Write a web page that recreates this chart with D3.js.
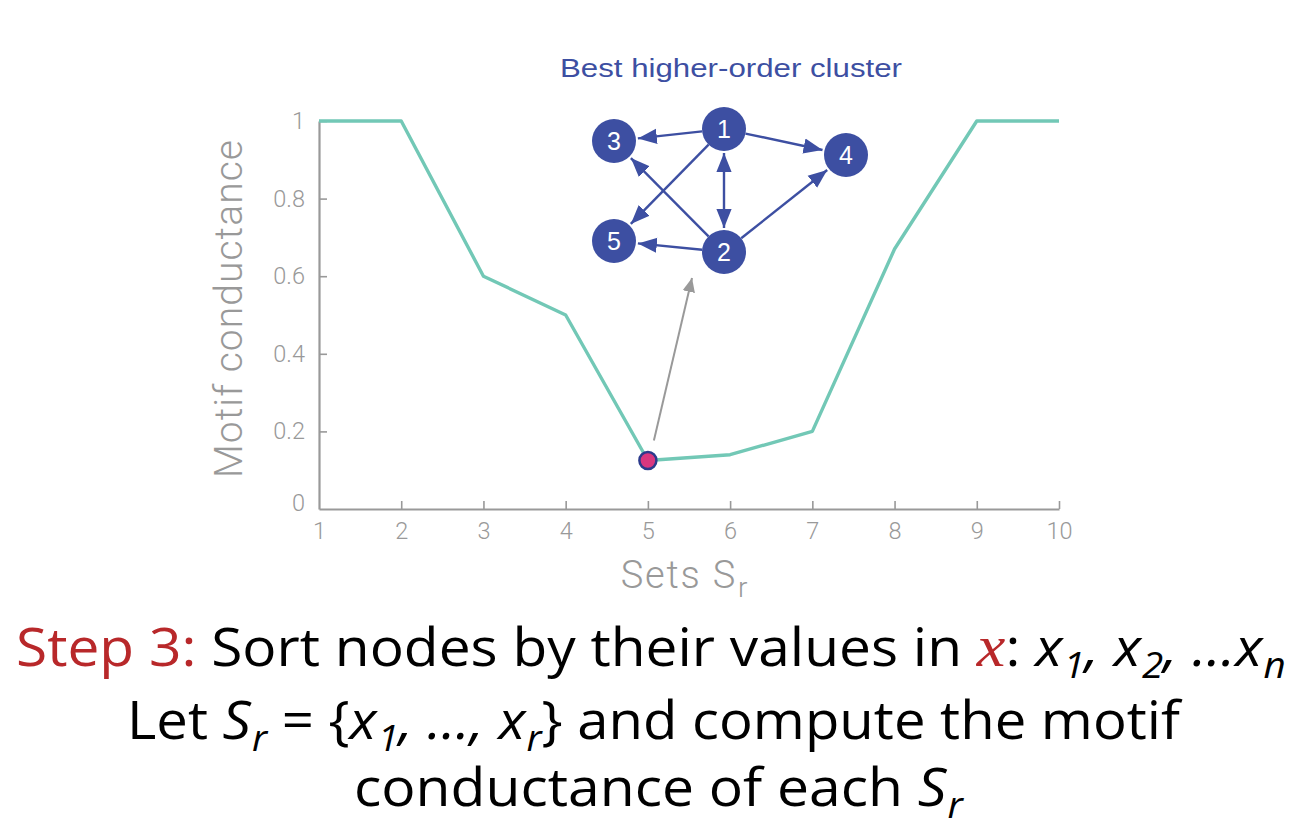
<!DOCTYPE html>
<html><head><meta charset="utf-8">
<script src="https://cdn.jsdelivr.net/npm/d3@7"></script>
<style>
body{margin:0;background:#fff;}
svg{display:block;}
</style></head>
<body>
<svg id="c" width="1316" height="838"></svg>
<script>
// ---- data ----
const sets = [1,2,3,4,5,6,7,8,9,10];
const conductance = [1,1,0.6,0.5,0.125,0.14,0.2,0.67,1,1];
const yTicks = [0,0.2,0.4,0.6,0.8,1];
const yTickLabels = ["0","0.2","0.4","0.6","0.8","1"];
const bestIndex = 4;
const clusterNodes = ["1","2","3","4","5"];
const clusterEdges = [["1","3"],["1","4"],["1","5"],["1","2"],["2","1"],["2","3"],["2","5"],["2","4"]];

// ---- layout ----
const svg = d3.select("#c");
const M = {left:319, right:1059, top:121, bottom:509};
const x = d3.scaleLinear().domain([1,10]).range([M.left, M.right]);
const y = d3.scaleLinear().domain([0,1]).range([M.bottom, M.top]);
const axisCol = "#999999";
const lightFont = "Roboto, 'Liberation Sans', sans-serif";
const helv = "'Liberation Sans', Arial, sans-serif";

const gx = svg.append("g").attr("transform",`translate(0,${M.bottom})`)
  .call(d3.axisBottom(x).tickValues(sets).tickFormat(d3.format("d")).tickSizeInner(-8).tickSizeOuter(0).tickPadding(13));
const gy = svg.append("g").attr("transform",`translate(${M.left},0)`)
  .call(d3.axisLeft(y).tickValues(yTicks).tickFormat((d,i)=>yTickLabels[i]).tickSizeInner(-8).tickSizeOuter(0).tickPadding(14));
[gx,gy].forEach(g=>{
  g.select(".domain").attr("stroke",axisCol).attr("stroke-width",2.2);
  g.selectAll(".tick line").attr("stroke",axisCol).attr("stroke-width",1.6);
  g.selectAll(".tick text").attr("fill",axisCol).style("font-family",lightFont).style("font-weight",300).style("font-size","23.5px");
});
gy.selectAll(".tick").filter(d=>d===0).select("line").remove();
gy.selectAll(".tick").filter(d=>d===0).select("text").attr("dy","0.05em");
gx.selectAll(".tick").filter(d=>d===1).select("line").remove();

// axis labels
svg.append("text").attr("transform",`translate(242,309) rotate(-90)`)
  .attr("text-anchor","middle").attr("fill",axisCol)
  .attr("textLength",338).attr("lengthAdjust","spacing")
  .style("font-family",lightFont).style("font-weight",300).style("font-size","39px")
  .text("Motif conductance");
const xl = svg.append("text").attr("x",685).attr("y",588).attr("text-anchor","middle").attr("fill",axisCol)
  .style("font-family",lightFont).style("font-weight",300).style("font-size","38px").style("letter-spacing","1.8px");
xl.append("tspan").text("Sets S");
xl.append("tspan").attr("dy",9).attr("dx",1).style("font-size","28px").text("r");

// line
svg.append("path").datum(sets.map((s,i)=>[s,conductance[i]]))
  .attr("fill","none").attr("stroke","#72c8b6").attr("stroke-width",3.4).attr("stroke-linejoin","round")
  .attr("d",d3.line().x(d=>x(d[0])).y(d=>y(d[1])));

// arrow marker defs
const defs = svg.append("defs");
defs.append("marker").attr("id","ga").attr("viewBox","0 0 10 10").attr("refX",10).attr("refY",5)
  .attr("markerWidth",14).attr("markerHeight",14).attr("markerUnits","userSpaceOnUse").attr("orient","auto")
  .append("path").attr("d","M0,0.5 L10,5 L0,9.5 Z").attr("fill","#999999");
defs.append("marker").attr("id","ba").attr("viewBox","0 0 10 10").attr("refX",10).attr("refY",5)
  .attr("markerWidth",19).attr("markerHeight",19).attr("markerUnits","userSpaceOnUse").attr("orient","auto-start-reverse")
  .append("path").attr("d","M0,1 L10,5 L0,9 Z").attr("fill","#3d4fa2");

// gray pointer arrow
const bx = x(sets[bestIndex]), by = y(conductance[bestIndex]);
svg.append("line").attr("x1",bx+6).attr("y1",by-20).attr("x2",692).attr("y2",278)
  .attr("stroke","#999999").attr("stroke-width",2).attr("marker-end","url(#ga)");

// best point
svg.append("circle").attr("cx",bx).attr("cy",by).attr("r",8.5)
  .attr("fill","#d8377f").attr("stroke","#2b3a8c").attr("stroke-width",2.5);

// cluster inset
const blue = "#3d4fa2";
svg.append("text").attr("x",731).attr("y",77).attr("text-anchor","middle").attr("fill",blue)
  .attr("textLength",342).attr("lengthAdjust","spacingAndGlyphs")
  .style("font-family",helv).style("font-size","26px").text("Best higher-order cluster");
const nodePos = {"1":[724,129],"2":[724,252],"3":[614,141],"4":[846,155],"5":[614,241]};
const R = 22;
const pairKey = (a,b)=>[a,b].sort().join("-");
const seen = new Set();
clusterEdges.forEach(([a,b])=>{
  const k = pairKey(a,b);
  if(seen.has(k)) return;
  seen.add(k);
  const both = clusterEdges.some(e=>e[0]===b&&e[1]===a);
  const [x1,y1]=nodePos[a],[x2,y2]=nodePos[b];
  const dx=x2-x1, dy=y2-y1, L=Math.hypot(dx,dy), ux=dx/L, uy=dy/L;
  const ln = svg.append("line")
    .attr("x1",x1+ux*(both?R+2:R)).attr("y1",y1+uy*(both?R+2:R))
    .attr("x2",x2-ux*(R+2)).attr("y2",y2-uy*(R+2))
    .attr("stroke",blue).attr("stroke-width",2.4).attr("marker-end","url(#ba)");
  if(both) ln.attr("marker-start","url(#ba)");
});
clusterNodes.forEach(n=>{
  const [cx,cy]=nodePos[n];
  svg.append("circle").attr("cx",cx).attr("cy",cy).attr("r",R).attr("fill",blue);
  svg.append("text").attr("x",cx).attr("y",cy+9).attr("text-anchor","middle").attr("fill","#fff")
    .style("font-family",helv).style("font-size","25px").text(n);
});

// ---- caption ----
const capFont = "'Open Sans', 'Noto Sans', sans-serif";
const red = "#b8282a";
function caption(yb, parts, x0, x1){
  const t = svg.append("text").attr("x",0).attr("y",yb).style("font-family",capFont).style("font-size","53px").attr("fill","#000");
  let dyAcc = 0;
  parts.forEach(p=>{
    const s = t.append("tspan").text(p.t);
    if(p.c) s.attr("fill",p.c);
    if(p.i) s.style("font-style","italic");
    if(p.serif) s.style("font-family","'Liberation Serif', serif").style("font-size","60px");
    if(p.sub){ s.attr("dy",12-dyAcc).attr("dx",1).style("font-size","36px"); dyAcc=12; }
    else if(dyAcc){ s.attr("dy",-dyAcc); dyAcc=0; }
  });
  const w = t.node().getComputedTextLength();
  const sx = (x1-x0)/w;
  t.attr("transform",`translate(${x0},0) scale(${sx},1)`);
}
caption(666,[
  {t:"Step 3:",c:red},{t:" Sort nodes by their values in "},{t:"x",c:red,i:true,serif:true},{t:": "},
  {t:"x",i:true},{t:"1",i:true,sub:true},{t:", ",i:true},{t:"x",i:true},{t:"2",i:true,sub:true},{t:", …x",i:true},{t:"n",i:true,sub:true}
],16,1283);
caption(739,[
  {t:"Let "},{t:"S",i:true},{t:"r",i:true,sub:true},{t:" = {"},{t:"x",i:true},{t:"1",i:true,sub:true},{t:", …, ",i:true},
  {t:"x",i:true},{t:"r",i:true,sub:true},{t:"} and compute the motif"}
],127,1177);
caption(806,[
  {t:"conductance of each "},{t:"S",i:true},{t:"r",i:true,sub:true}
],354,962);
</script>
</body></html>
